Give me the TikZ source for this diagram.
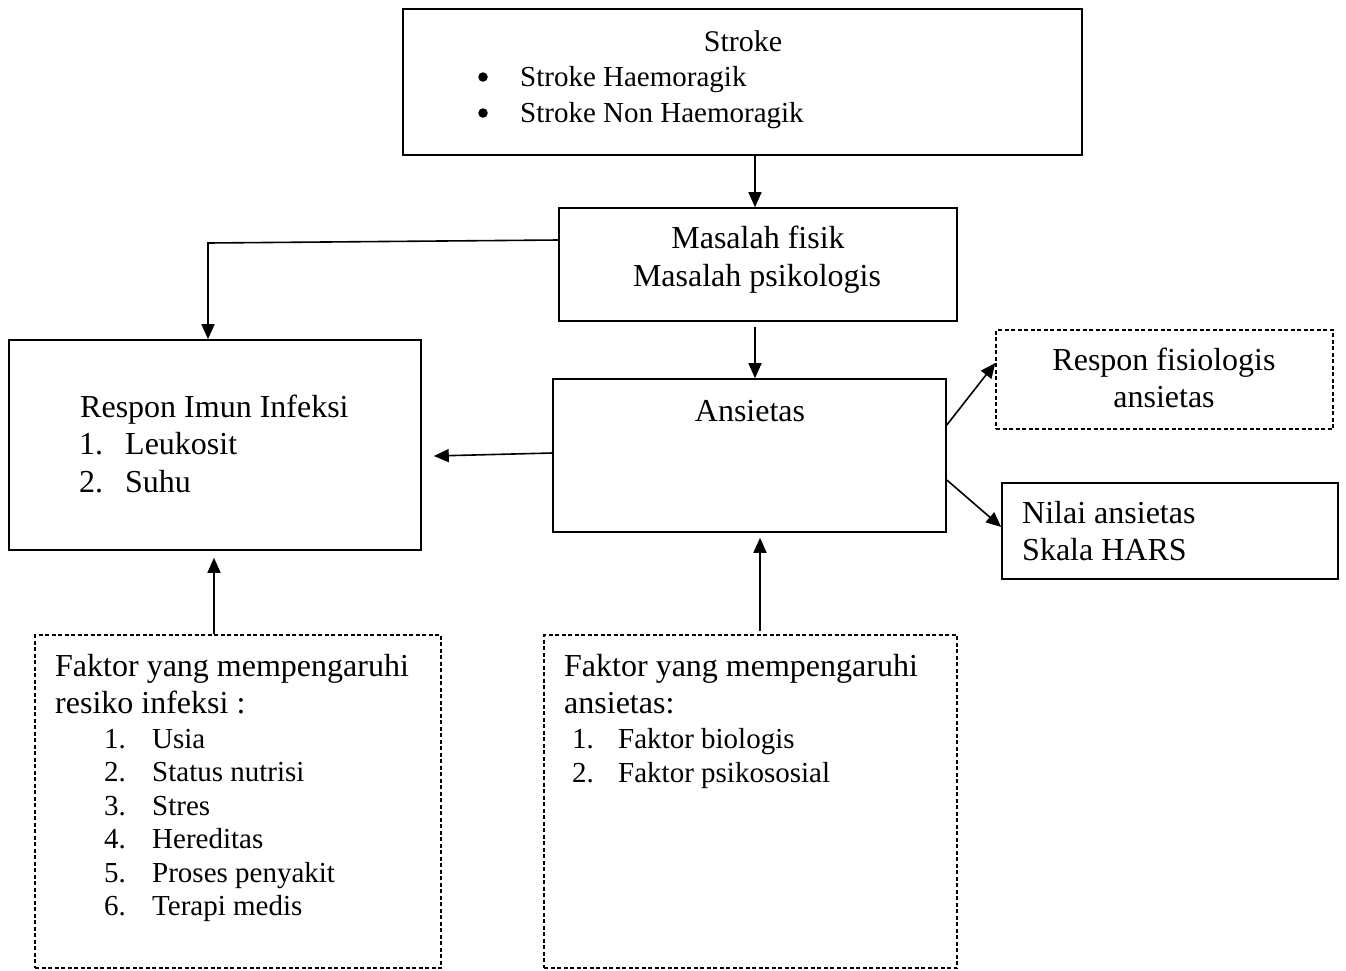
\documentclass[tikz,border=0pt]{standalone}
\usepackage{fontspec}
\setmainfont{Liberation Serif}
\usetikzlibrary{arrows.meta,calc}
\begin{document}
\begin{tikzpicture}[x=1pt,y=-1pt,
  box/.style={draw,line width=1.6pt,inner sep=0pt},
  dbox/.style={draw,line width=1.3pt,dash pattern=on 4pt off 2.5pt,inner sep=0pt},
  arr/.style={line width=1.6pt,-{Triangle[length=15pt,width=13pt]}},
  big/.style={font=\fontsize{32}{37}\selectfont,inner sep=0pt},
  small/.style={font=\fontsize{29}{33}\selectfont,inner sep=0pt},
  bul/.style={circle,fill,inner sep=0pt,minimum size=9.5pt},
  tl/.style={anchor=base west},
  tc/.style={anchor=base}
]
\useasboundingbox (0,0) rectangle (1346,970);
% boxes
\node[box,minimum width=679pt,minimum height=146pt] (stroke) at (742.5,82) {};
\node[box,minimum width=398pt,minimum height=113pt] (masalah) at (758,264.5) {};
\node[box,minimum width=412pt,minimum height=210pt] (imun) at (215,445) {};
\node[box,minimum width=393pt,minimum height=153pt] (ansietas) at (749.5,455.5) {};
\node[dbox,minimum width=337pt,minimum height=99pt] (fisio) at (1164.5,379.5) {};
\node[box,minimum width=336pt,minimum height=96pt] (nilai) at (1170,531) {};
\node[dbox,minimum width=406pt,minimum height=333pt] (finf) at (238,801.5) {};
\node[dbox,minimum width=413pt,minimum height=333pt] (fans) at (750.5,801.5) {};
% texts: stroke
\node[small,tc,font=\fontsize{30}{34}\selectfont] (tstroke) at (743,51) {Stroke};
\node[bul] (b1) at (483,77) {};
\node[small,tl] (s1) at (520,86) {Stroke Haemoragik};
\node[bul] (b2) at (483,113) {};
\node[small,tl] (s2) at (520,122) {Stroke Non Haemoragik};
% masalah
\node[big,tc] (m1) at (758,248) {Masalah fisik};
\node[big,tc] (m2) at (757,286) {Masalah psikologis};
% ansietas
\node[big,tc] (ta) at (750,421) {Ansietas};
% imun
\node[big,tl] (i0) at (80,417) {Respon Imun Infeksi};
\node[big,tl] (i1n) at (79,454) {1.};
\node[big,tl] (i1) at (125,454) {Leukosit};
\node[big,tl] (i2n) at (79,492) {2.};
\node[big,tl] (i2) at (125,492) {Suhu};
% fisio
\node[big,tc] (f1) at (1164,370) {Respon fisiologis};
\node[big,tc] (f2) at (1164,407) {ansietas};
% nilai
\node[big,tl] (n1) at (1022,523) {Nilai ansietas};
\node[big,tl] (n2) at (1022,560) {Skala HARS};
% faktor infeksi
\node[big,tl] (fi0) at (55,676) {Faktor yang mempengaruhi};
\node[big,tl] (fi00) at (55,713) {resiko infeksi :};
\node[small,tl] (fi1n) at (104,748) {1.};
\node[small,tl] (fi1) at (152,748) {Usia};
\node[small,tl] (fi2n) at (104,781.5) {2.};
\node[small,tl] (fi2) at (152,781.5) {Status nutrisi};
\node[small,tl] (fi3n) at (104,815) {3.};
\node[small,tl] (fi3) at (152,815) {Stres};
\node[small,tl] (fi4n) at (104,848.5) {4.};
\node[small,tl] (fi4) at (152,848.5) {Hereditas};
\node[small,tl] (fi5n) at (104,882) {5.};
\node[small,tl] (fi5) at (152,882) {Proses penyakit};
\node[small,tl] (fi6n) at (104,915.5) {6.};
\node[small,tl] (fi6) at (152,915.5) {Terapi medis};
% faktor ansietas
\node[big,tl] (fa0) at (564,676) {Faktor yang mempengaruhi};
\node[big,tl] (fa00) at (564,713) {ansietas:};
\node[small,tl] (fa1n) at (572,748) {1.};
\node[small,tl] (fa1) at (618,748) {Faktor biologis};
\node[small,tl] (fa2n) at (572,782) {2.};
\node[small,tl] (fa2) at (618,782) {Faktor psikososial};
% connectors
\coordinate (bend) at (208,243);
\draw[arr] ([xshift=12.5pt]stroke.south) -- ([xshift=-3pt]masalah.north);
\draw[arr] ([yshift=24.5pt]masalah.west) -- (bend) -- (bend |- imun.north);
\draw[arr] ([xshift=-3pt,yshift=-5pt]masalah.south) -- ([xshift=5.5pt]ansietas.north);
\draw[arr] ([yshift=2.5pt]ansietas.west) -- ([xshift=12pt,yshift=-11pt]imun.east);
\draw[arr] ([xshift=-24pt]finf.north) -- ([xshift=-1pt,yshift=-7pt]imun.south);
\draw[arr] ([xshift=9.5pt,yshift=3pt]fans.north) -- ([xshift=10.5pt,yshift=-5pt]ansietas.south);
\draw[arr] ([yshift=30.5pt]ansietas.east) -- ([yshift=16.5pt]fisio.west);
\draw[arr] ([yshift=-24.5pt]ansietas.east) -- ([yshift=4pt]nilai.west);
\end{tikzpicture}
\end{document}
